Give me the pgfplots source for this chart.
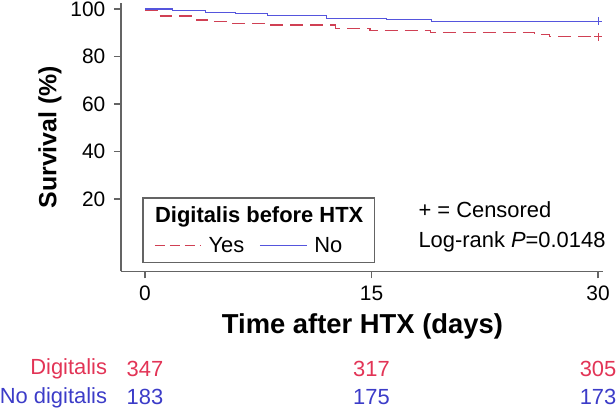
\documentclass[border=0pt]{standalone}
\usepackage{fontspec}
\setmainfont{Liberation Sans}
\usepackage{pgfplots}
\pgfplotsset{compat=1.18}

\definecolor{kmred}{RGB}{208,64,84}
\definecolor{kmblue}{RGB}{85,85,221}
\definecolor{txtred}{RGB}{226,52,86}
\definecolor{txtblue}{RGB}{60,60,200}
\definecolor{axgray}{RGB}{100,100,100}

\begin{document}
\begin{tikzpicture}
\begin{axis}[
    scale only axis,
    width=482bp, height=268.4bp,
    xmin=-1.6, xmax=30.3,
    ymin=-10.5, ymax=102.5,
    axis lines*=left,
    axis line style={-, axgray, line width=1.4pt},
    tick style={axgray, line width=1.2pt},
    tick align=outside,
    major tick length=7bp,
    xtick={0,15,30},
    ytick={20,40,60,80,100},
    ticklabel style={font=\fontsize{21}{24}\selectfont},
    yticklabel style={xshift=-5bp},
    xticklabel style={yshift=-4bp},
    /pgf/number format/assume math mode=true,
    clip=false,
]
% Yes (digitalis)
\addplot[const plot, kmred, line width=1.3pt, dash pattern=on 13bp off 7bp] coordinates {
    (0,99.4) (0.8,97.1) (3.4,95.4) (4.3,94.7) (5.6,94.0) (7.9,93.3)
    (12.6,91.9) (14.9,90.9) (18.9,90.2) (25.8,89.3) (26.8,88.3) (30,88.3)
};
% No digitalis
\addplot[const plot, kmblue, line width=1.1pt] coordinates {
    (0,100) (1.85,99.5) (4.0,98.7) (6.0,98.0) (8.1,97.3) (12.0,96.1)
    (16.0,95.4) (19.0,94.8) (30,94.8)
};
% censored
\addplot[only marks, mark=+, kmred, mark size=4bp, line width=1pt] coordinates {(30,88.3)};
\addplot[only marks, mark=+, kmblue, mark size=4bp, line width=1pt] coordinates {(30,94.8)};

% axis labels
\node[rotate=90, font=\fontsize{25}{30}\selectfont\bfseries] at (axis cs:-6.3,46) {Survival (\%)};
\node[font=\fontsize{27.5}{32}\selectfont\bfseries] at (axis cs:14.4,-33.5) {Time after HTX (days)};

% legend
\draw[draw=axgray, line width=1.2pt] (axis cs:-0.13,20.4) rectangle (axis cs:15.2,-6.9);
\node[anchor=west, font=\fontsize{22}{26}\selectfont\bfseries, inner sep=0pt] at (axis cs:0.66,12.4) {Digitalis before HTX};
\draw[draw=kmred, line width=1.4pt, dash pattern=on 10bp off 5bp] (axis cs:0.66,0.4) -- (axis cs:3.64,0.4);
\node[anchor=west, font=\fontsize{22}{26}\selectfont, inner sep=0pt] at (axis cs:4.2,0.4) {Yes};
\draw[draw=kmblue, line width=1.3pt] (axis cs:7.6,0.4) -- (axis cs:10.7,0.4);
\node[anchor=west, font=\fontsize{22}{26}\selectfont, inner sep=0pt] at (axis cs:11.2,0.4) {No};

% annotations
\node[anchor=west, font=\fontsize{22}{26}\selectfont, inner sep=0pt] at (axis cs:18.1,15.4) {+ = Censored};
\node[anchor=west, font=\fontsize{22}{26}\selectfont, inner sep=0pt] at (axis cs:18.1,1.9) {Log-rank \textit{P}=0.0148};

% number at risk
\begin{scope}[font=\fontsize{22}{26}\selectfont, inner sep=0pt]
\node[anchor=east, txtred] at (axis cs:-2.5,-51.6) {Digitalis};
\node[txtred] at (axis cs:0,-51.6) {347};
\node[txtred] at (axis cs:15,-51.6) {317};
\node[txtred] at (axis cs:30,-51.6) {305};
\node[anchor=east, txtblue] at (axis cs:-2.5,-63.6) {No digitalis};
\node[txtblue] at (axis cs:0,-63.6) {183};
\node[txtblue] at (axis cs:15,-63.6) {175};
\node[txtblue] at (axis cs:30,-63.6) {173};
\end{scope}

\coordinate (bbsw) at (axis cs:-9.6,-68.4);
\coordinate (bbne) at (axis cs:31.19,103.8);
\end{axis}
\pgfresetboundingbox
\path[use as bounding box] (bbsw) rectangle (bbne);
\end{tikzpicture}
\end{document}
